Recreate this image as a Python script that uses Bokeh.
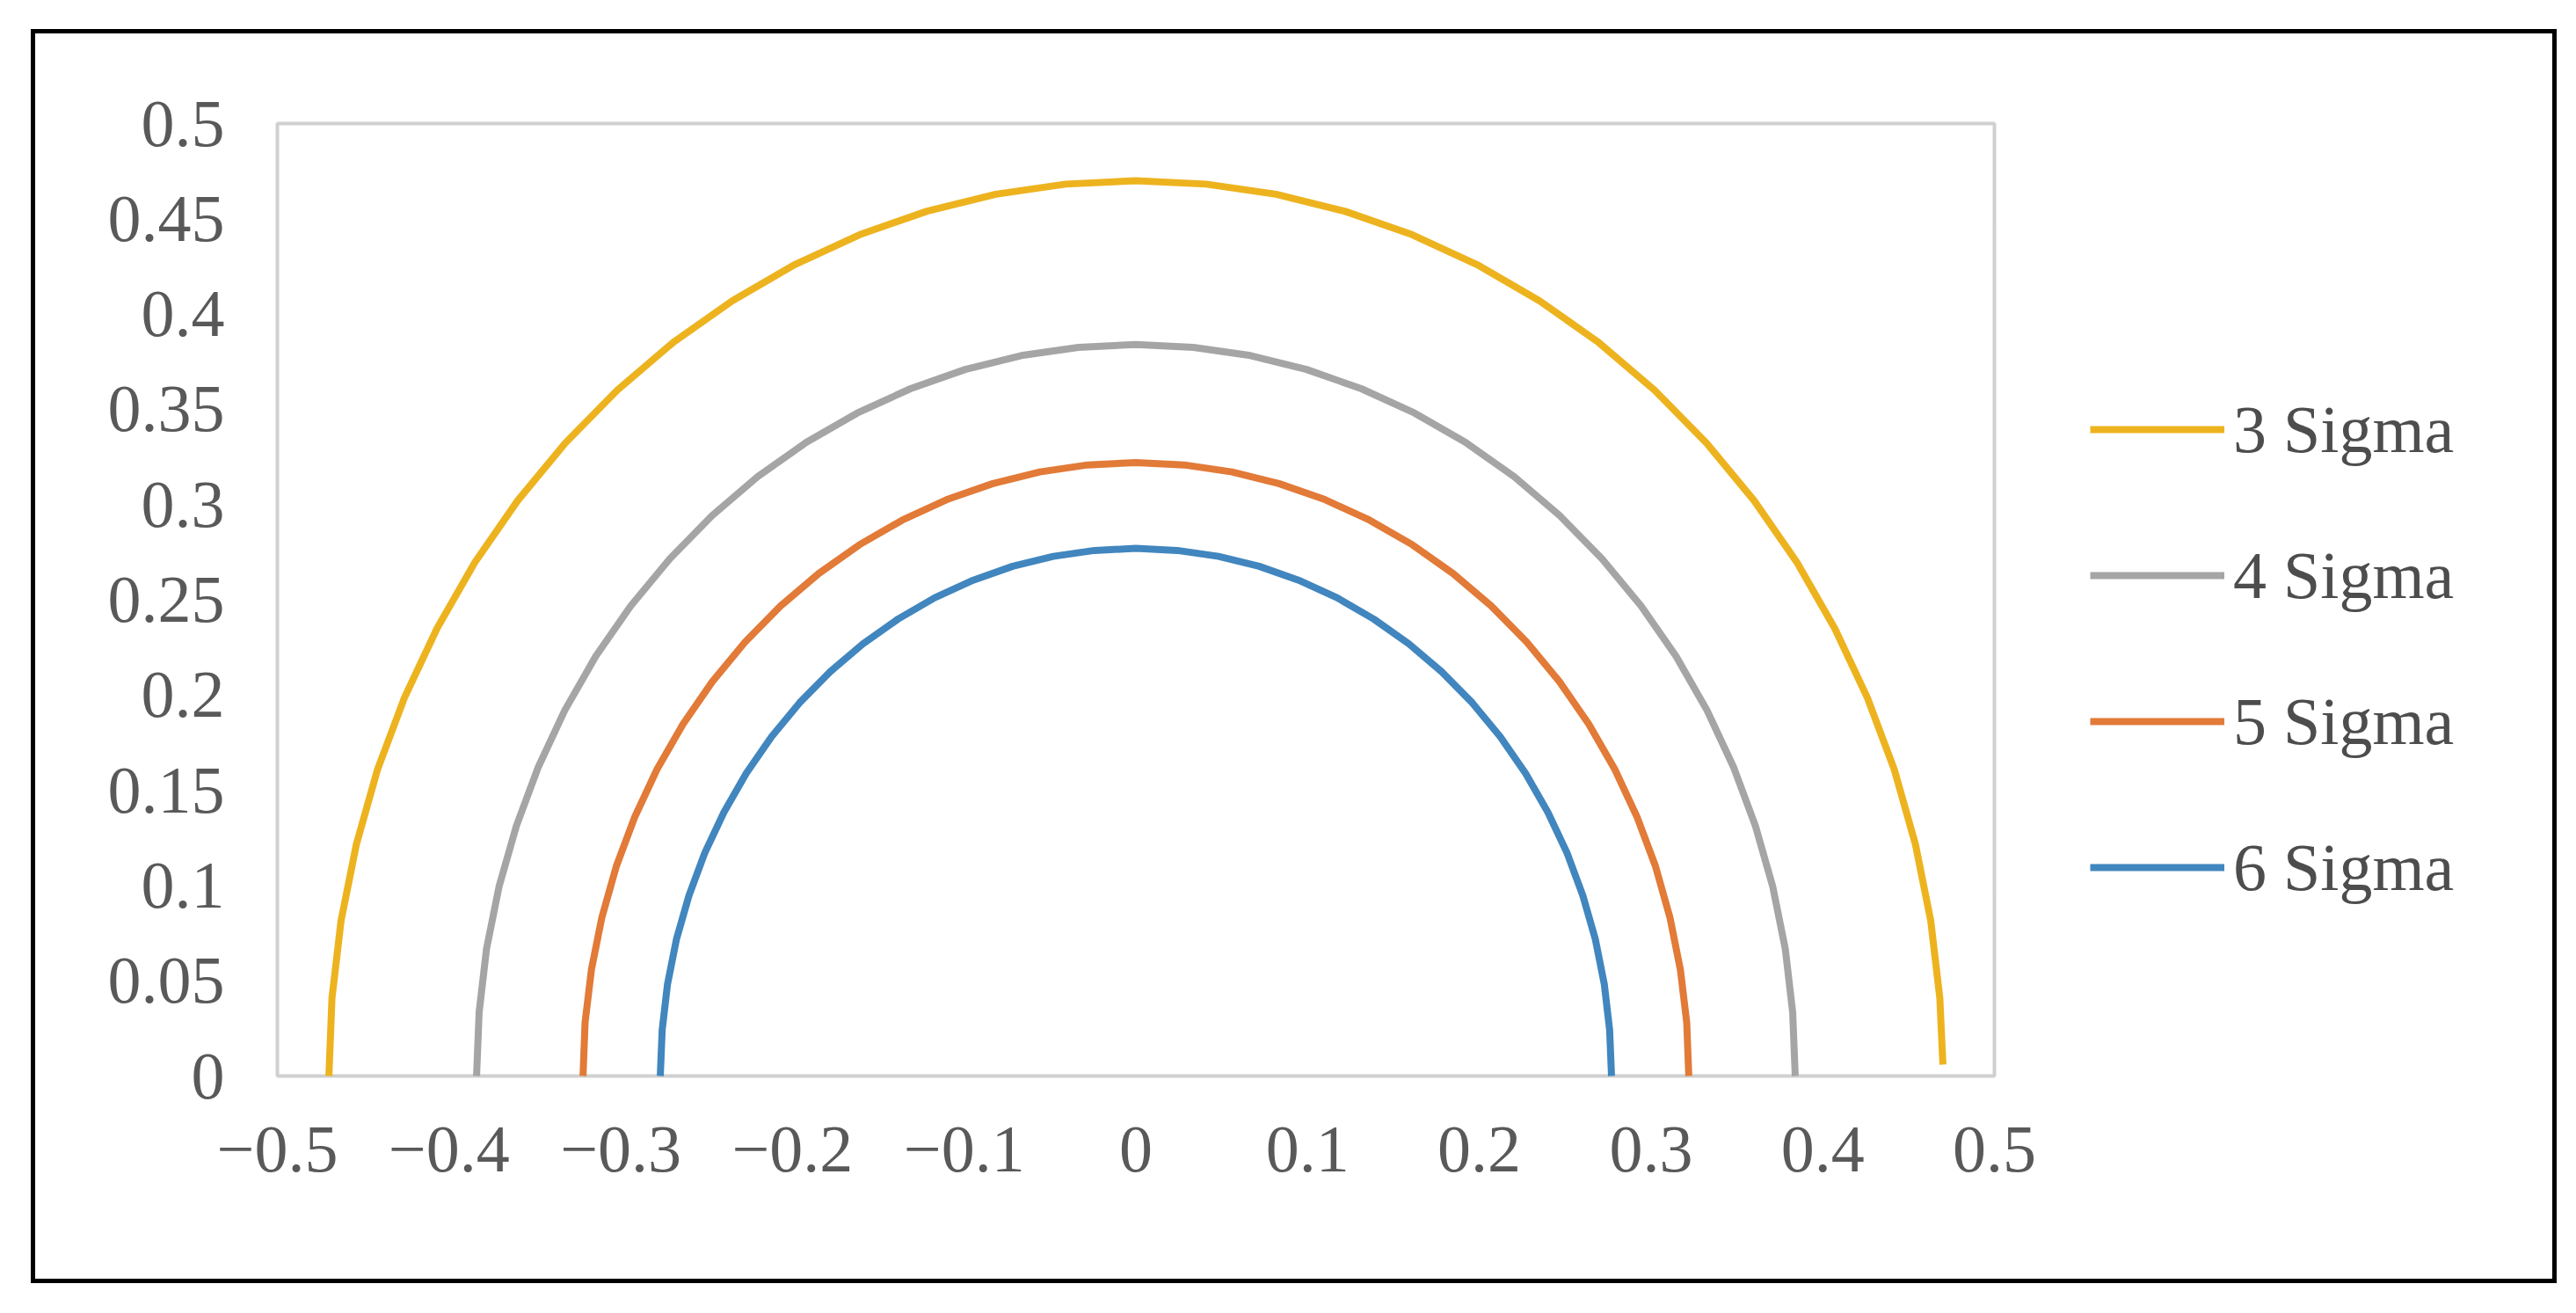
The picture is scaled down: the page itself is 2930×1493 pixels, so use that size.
from bokeh.plotting import figure
from bokeh.models import Range1d, FixedTicker, Legend, LegendItem
from bokeh.embed import file_html
from bokeh.resources import INLINE

series_names = ["3 Sigma", "4 Sigma", "5 Sigma", "6 Sigma"]
series_colors = ["#EDB31F", "#A5A5A5", "#E27A38", "#4186BE"]

x_3sigma = [-0.47, -0.4682, -0.4629, -0.454, -0.4417, -0.426, -0.407, -0.385, -0.36, -0.3323,
            -0.3021, -0.2696, -0.235, -0.1986, -0.1608, -0.1216, -0.0816, -0.041, 0.0,
            0.041, 0.0816, 0.1216, 0.1608, 0.1986, 0.235, 0.2696, 0.3021, 0.3323, 0.36,
            0.385, 0.407, 0.426, 0.4417, 0.454, 0.4629, 0.4682, 0.47]
y_3sigma = [0.0, 0.041, 0.0816, 0.1216, 0.1608, 0.1986, 0.235, 0.2696, 0.3021, 0.3323,
            0.36, 0.385, 0.407, 0.426, 0.4417, 0.454, 0.4629, 0.4682, 0.47,
            0.4682, 0.4629, 0.454, 0.4417, 0.426, 0.407, 0.385, 0.36, 0.3323, 0.3021,
            0.2696, 0.235, 0.1986, 0.1608, 0.1216, 0.0816, 0.041, 0.006]

x_4sigma = [-0.384, -0.3825, -0.3782, -0.3709, -0.3608, -0.348, -0.3326, -0.3146, -0.2942, -0.2715,
            -0.2468, -0.2203, -0.192, -0.1623, -0.1313, -0.0994, -0.0667, -0.0335, 0.0,
            0.0335, 0.0667, 0.0994, 0.1313, 0.1623, 0.192, 0.2203, 0.2468, 0.2715, 0.2942,
            0.3146, 0.3326, 0.348, 0.3608, 0.3709, 0.3782, 0.3825, 0.384]
y_4sigma = [0.0, 0.0335, 0.0667, 0.0994, 0.1313, 0.1623, 0.192, 0.2203, 0.2468, 0.2715,
            0.2942, 0.3146, 0.3326, 0.348, 0.3608, 0.3709, 0.3782, 0.3825, 0.384,
            0.3825, 0.3782, 0.3709, 0.3608, 0.348, 0.3326, 0.3146, 0.2942, 0.2715, 0.2468,
            0.2203, 0.192, 0.1623, 0.1313, 0.0994, 0.0667, 0.0335, 0.0]

x_5sigma = [-0.322, -0.3208, -0.3171, -0.311, -0.3026, -0.2918, -0.2789, -0.2638, -0.2467, -0.2277,
            -0.207, -0.1847, -0.161, -0.1361, -0.1101, -0.0833, -0.0559, -0.0281, 0.0,
            0.0281, 0.0559, 0.0833, 0.1101, 0.1361, 0.161, 0.1847, 0.207, 0.2277, 0.2467,
            0.2638, 0.2789, 0.2918, 0.3026, 0.311, 0.3171, 0.3208, 0.322]
y_5sigma = [0.0, 0.0281, 0.0559, 0.0833, 0.1101, 0.1361, 0.161, 0.1847, 0.207, 0.2277,
            0.2467, 0.2638, 0.2789, 0.2918, 0.3026, 0.311, 0.3171, 0.3208, 0.322,
            0.3208, 0.3171, 0.311, 0.3026, 0.2918, 0.2789, 0.2638, 0.2467, 0.2277, 0.207,
            0.1847, 0.161, 0.1361, 0.1101, 0.0833, 0.0559, 0.0281, 0.0]

x_6sigma = [-0.277, -0.2759, -0.2728, -0.2676, -0.2603, -0.2511, -0.2399, -0.2269, -0.2122, -0.1959,
            -0.1781, -0.1589, -0.1385, -0.1171, -0.0947, -0.0717, -0.0481, -0.0241, 0.0,
            0.0241, 0.0481, 0.0717, 0.0947, 0.1171, 0.1385, 0.1589, 0.1781, 0.1959, 0.2122,
            0.2269, 0.2399, 0.2511, 0.2603, 0.2676, 0.2728, 0.2759, 0.277]
y_6sigma = [0.0, 0.0241, 0.0481, 0.0717, 0.0947, 0.1171, 0.1385, 0.1589, 0.1781, 0.1959,
            0.2122, 0.2269, 0.2399, 0.2511, 0.2603, 0.2676, 0.2728, 0.2759, 0.277,
            0.2759, 0.2728, 0.2676, 0.2603, 0.2511, 0.2399, 0.2269, 0.2122, 0.1959, 0.1781,
            0.1589, 0.1385, 0.1171, 0.0947, 0.0717, 0.0481, 0.0241, 0.0]

x_ticks = [-0.5, -0.4, -0.3, -0.2, -0.1, 0.0, 0.1, 0.2, 0.3, 0.4, 0.5]
x_tick_labels = ["\u22120.5", "\u22120.4", "\u22120.3", "\u22120.2", "\u22120.1", "0",
                 "0.1", "0.2", "0.3", "0.4", "0.5"]
y_ticks = [0.0, 0.05, 0.1, 0.15, 0.2, 0.25, 0.3, 0.35, 0.4, 0.45, 0.5]
y_tick_labels = ["0", "0.05", "0.1", "0.15", "0.2", "0.25", "0.3", "0.35", "0.4", "0.45", "0.5"]

# ---- layout (pixels on the page) ----
W, H = 2920, 1485
PA_L, PA_R, PA_T, PA_B = 315, 2268, 140, 1223      # plot area (gray box) edges
FR_L, FR_R, FR_T, FR_B = 290, 2890, 110, 1250      # drawing frame edges (larger)
x0, x1 = x_ticks[0], x_ticks[-1]
y0, y1 = y_ticks[0], y_ticks[-1]
ppx = (PA_R - PA_L) / (x1 - x0)
ppy = (PA_B - PA_T) / (y1 - y0)
x_range = Range1d(x0 - (PA_L - FR_L) / ppx, x1 + (FR_R - PA_R) / ppx)
y_range = Range1d(y0 - (FR_B - PA_B) / ppy, y1 + (PA_T - FR_T) / ppy)

p = figure(width=W, height=H, output_backend="svg", toolbar_location=None,
           x_range=x_range, y_range=y_range,
           min_border_left=FR_L, min_border_right=W - FR_R,
           min_border_top=FR_T, min_border_bottom=H - FR_B)
p.background_fill_color = None
p.border_fill_color = None
p.outline_line_color = None
p.xgrid.visible = False
p.ygrid.visible = False

# outer black frame drawn as CSS backgrounds of the figure element
p.styles = {
    "background-color": "white",
    "background-image": ", ".join(["linear-gradient(#000, #000)"] * 4),
    "background-position": "35px 33px, 35px 1454px, 35px 33px, 2903px 33px",
    "background-size": "2873px 5px, 2873px 5px, 5px 1426px, 5px 1426px",
    "background-repeat": "no-repeat",
}

# gray plot-area box
p.quad(left=x0, right=x1, bottom=y0, top=y1, fill_color=None,
       line_color="#D0D0D0", line_width=4)

TEXT_FONT = "Liberation Serif"
TEXT_COLOR = "#595959"
for ax in (p.xaxis[0], p.yaxis[0]):
    ax.axis_line_color = None
    ax.major_tick_line_color = None
    ax.minor_tick_line_color = None
    ax.major_tick_out = 0
    ax.major_tick_in = 0
    ax.minor_tick_out = 0
    ax.major_label_text_font = TEXT_FONT
    ax.major_label_text_font_size = "76px"
    ax.major_label_text_color = TEXT_COLOR

p.xaxis[0].ticker = FixedTicker(ticks=x_ticks)
p.xaxis[0].major_label_overrides = dict(zip(x_ticks, x_tick_labels))
p.xaxis[0].major_label_standoff = 58 - (FR_B - PA_B)
p.yaxis[0].ticker = FixedTicker(ticks=y_ticks)
p.yaxis[0].major_label_overrides = dict(zip(y_ticks, y_tick_labels))
p.yaxis[0].major_label_standoff = 60 - (PA_L - FR_L)

xs = [x_3sigma, x_4sigma, x_5sigma, x_6sigma]
ys = [y_3sigma, y_4sigma, y_5sigma, y_6sigma]
items = []
for name, color, xv, yv in zip(series_names, series_colors, xs, ys):
    r = p.line(xv, yv, line_color=color, line_width=8, line_join="round", line_cap="butt")
    items.append(LegendItem(label=name, renderers=[r]))

LEG_X, LEG_Y1, LEG_STEP = 2377, 488, 166
legend = Legend(items=items,
                location=(LEG_X - FR_L, FR_B - (LEG_Y1 - LEG_STEP / 2 + 4 * LEG_STEP)),
                orientation="vertical",
                glyph_width=153, glyph_height=LEG_STEP, spacing=0, padding=0, margin=0,
                label_standoff=10, label_text_font=TEXT_FONT, label_text_font_size="76px",
                label_text_color="#4D4D4D", label_text_baseline="middle",
                border_line_alpha=0, background_fill_alpha=0)
p.add_layout(legend, "center")

open("out.html", "w").write(file_html(p, INLINE))
